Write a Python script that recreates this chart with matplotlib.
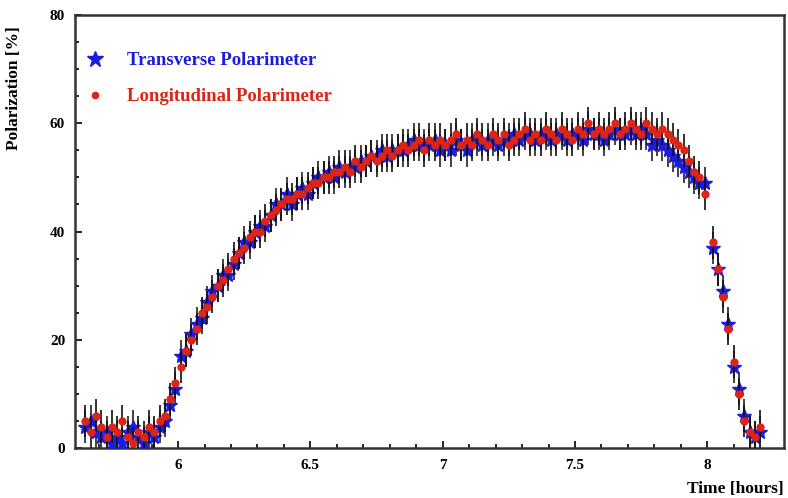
import matplotlib
matplotlib.use("Agg")
import matplotlib.pyplot as plt
from matplotlib.lines import Line2D
from matplotlib.ticker import MultipleLocator

# measurement times [hours]
time_a = [5.65, 5.67, 5.69, 5.71, 5.73, 5.75, 5.77, 5.79, 5.81, 5.83, 5.85, 5.87,
          5.89, 5.91, 5.93, 5.95, 5.97, 5.99,
          6.01, 6.03, 6.05, 6.07, 6.09, 6.11, 6.13, 6.15, 6.17, 6.19,
          6.21, 6.23, 6.25, 6.27, 6.29, 6.31, 6.33, 6.35, 6.37, 6.39,
          6.41, 6.43, 6.45, 6.47, 6.49, 6.51, 6.53, 6.55, 6.57, 6.59,
          6.61, 6.63, 6.65, 6.67, 6.69, 6.71, 6.73, 6.75, 6.77, 6.79,
          6.81, 6.83, 6.85, 6.87, 6.89, 6.91, 6.93, 6.95, 6.97, 6.99,
          7.01, 7.03, 7.05, 7.07, 7.09, 7.11, 7.13, 7.15, 7.17, 7.19,
          7.21, 7.23, 7.25, 7.27, 7.29, 7.31, 7.33, 7.35, 7.37, 7.39,
          7.41, 7.43, 7.45, 7.47, 7.49, 7.51, 7.53, 7.55, 7.57, 7.59,
          7.61, 7.63, 7.65, 7.67, 7.69, 7.71, 7.73, 7.75, 7.77, 7.79,
          7.81, 7.83, 7.85, 7.87, 7.89, 7.91, 7.93, 7.95, 7.97, 7.99]
time_b = [8.02, 8.04, 8.06, 8.08, 8.10, 8.12, 8.14, 8.16, 8.18, 8.20]
time = time_a + time_b

# longitudinal polarimeter [%]
long_pol = [5, 3, 6, 4, 2, 4, 3, 5, 2, 1, 3, 2, 4, 3, 5, 6, 9, 12,
            15, 18, 20, 22, 25, 26, 28, 30, 31, 33, 35, 36, 37, 39, 40, 40, 42, 43, 44, 45,
            46, 46, 47, 47, 48, 49, 49, 50, 50, 51, 51, 52, 51, 53, 52, 53, 54, 53, 54, 55,
            54, 55, 56, 55, 56, 57, 55, 57, 56, 57, 56, 57, 58, 56, 57, 56, 58, 57, 56, 58,
            57, 58, 56, 57, 58, 59, 57, 58, 57, 59, 58, 57, 59, 58, 57, 59, 58, 60, 58, 59,
            58, 59, 60, 58, 59, 60, 59, 58, 60, 59, 58, 59, 58, 57, 56, 55, 53, 51, 50, 47,
            38, 33, 28, 22, 16, 10, 5, 3, 2, 4]

# transverse polarimeter [%]
trans_pol = [4, 5, 3, 2, 3, 1, 2, 1, 3, 4, 2, 1, 3, 2, 4, 5, 8, 11,
             17, 18, 21, 23, 24, 27, 29, 30, 32, 32, 34, 36, 38, 38, 40, 41, 41, 43, 45, 45,
             47, 45, 47, 48, 47, 49, 50, 50, 51, 50, 52, 51, 52, 52, 53, 53, 54, 54, 55, 54,
             55, 55, 55, 56, 57, 56, 56, 56, 57, 55, 56, 55, 57, 56, 55, 57, 57, 56, 57, 57,
             56, 57, 57, 58, 57, 58, 58, 57, 58, 58, 57, 58, 58, 57, 58, 58, 57, 59, 58, 58,
             57, 58, 59, 58, 58, 59, 58, 59, 58, 56, 57, 56, 55, 54, 53, 52, 51, 50, 49, 49,
             37, 33, 29, 23, 15, 11, 6, 3, 2, 3]

err = 3.0

plt.rcParams['font.family'] = 'Liberation Serif'
plt.rcParams['font.weight'] = 'bold'

fig = plt.figure(figsize=(7.88, 4.98), dpi=100)
ax = fig.add_axes([0.095, 0.1, 0.9, 0.87])

blue = "#1c1ce0"
red = "#dc2418"

ax.errorbar(time, trans_pol, yerr=err, fmt='none', ecolor='#222222', elinewidth=1.2, zorder=2)
ax.plot(time, trans_pol, ls='none', marker='*', ms=10, color=blue, mec=blue, zorder=3)
ax.errorbar(time, long_pol, yerr=err, fmt='none', ecolor='#111111', elinewidth=1.2, zorder=4)
ax.plot(time, long_pol, ls='none', marker='o', ms=5, color=red, mec=red, zorder=5)

ax.set_xlim(5.61, 8.29)
ax.set_ylim(0, 80)
ax.xaxis.set_major_locator(MultipleLocator(0.5))
ax.xaxis.set_minor_locator(MultipleLocator(0.1))
ax.yaxis.set_major_locator(MultipleLocator(20))
ax.yaxis.set_minor_locator(MultipleLocator(5))
ax.set_xticks([6, 6.5, 7, 7.5, 8])
ax.set_xticklabels(['6', '6.5', '7', '7.5', '8'])
ax.tick_params(which='both', direction='in', top=False, right=False, labelsize=11, width=1.2)
ax.tick_params(which='major', length=5)
ax.tick_params(which='minor', length=3)
ax.tick_params(axis='x', pad=8)
ax.tick_params(axis='y', pad=7)
for s in ax.spines.values():
    s.set_linewidth(1.8)
    s.set_color('#333333')

ax.set_ylabel('Polarization [%]', fontsize=12.5, fontweight='bold')
ax.yaxis.set_label_coords(-0.075, 0.83)
ax.set_xlabel('Time [hours]', fontsize=12.5, fontweight='bold', ha='right')
ax.xaxis.set_label_coords(1.0, -0.075)

handles = [Line2D([], [], ls='none', marker='*', ms=12, color=blue),
           Line2D([], [], ls='none', marker='o', ms=4.5, color=red)]
ax.legend(handles, ['Transverse Polarimeter', 'Longitudinal Polarimeter'],
          loc='upper left', frameon=False, labelcolor=[blue, red],
          prop={'family': 'Liberation Serif', 'weight': 'bold', 'size': 13.5},
          bbox_to_anchor=(0.0, 0.94), borderaxespad=0.2, handlelength=1.0,
          handletextpad=1.2, labelspacing=1.0)

fig.savefig('out.png', dpi=100)
